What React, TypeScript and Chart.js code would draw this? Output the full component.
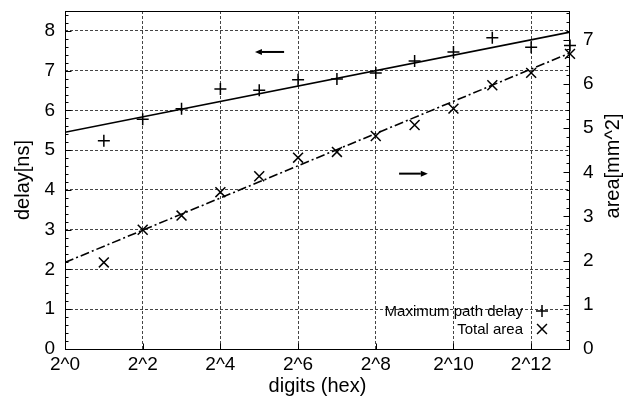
import React, { useEffect, useRef } from "react";
import { Chart, registerables } from "chart.js";

Chart.register(...registerables);

// ---- data (x values are log2 of the digit count) ----
const digitExponents = [1, 2, 3, 4, 5, 6, 7, 8, 9, 10, 11, 12, 13];
const maxPathDelay = [5.24, 5.78, 6.04, 6.54, 6.51, 6.77, 6.79, 6.94, 7.24, 7.47, 7.83, 7.59, 7.63];
const totalArea = [1.96, 2.7, 3.02, 3.55, 3.91, 4.33, 4.46, 4.82, 5.07, 5.44, 5.97, 6.25, 6.68];

const fitExponents = [0, 13];
const delayFit = [5.45, 7.97];
const areaFit = [1.96, 6.7];

const xTickExponents = [0, 2, 4, 6, 8, 10, 12];
const delayTicks = [0, 1, 2, 3, 4, 5, 6, 7, 8];
const areaTicks = [0, 1, 2, 3, 4, 5, 6, 7];

const seriesLabels = ["Maximum path delay", "Total area"];
const axisTitles = { x: "digits (hex)", y: "delay[ns]", y2: "area[mm^2]" };

// arrows in data space (x exponent, delay-axis value)
const arrowDelay = { from: [5.64, 7.47], to: [4.89, 7.47] };
const arrowArea = { from: [8.6, 4.41], to: [9.34, 4.41] };

const FONT = "'Liberation Sans', Arial, Helvetica, sans-serif";
const INK = "#000";

const noPad = (s: any) => {
  s.paddingTop = 0;
  s.paddingBottom = 0;
  s.paddingLeft = 0;
  s.paddingRight = 0;
};

const overlayPlugin = {
  id: "overlay",
  afterDatasetsDraw(chart: any) {
    const { ctx, chartArea: a, scales } = chart;
    const xs = scales.x;
    const ys = scales.y;
    const y2s = scales.y2;
    const px = (v: number) => Math.round(v) + 0.5;
    ctx.save();
    ctx.strokeStyle = INK;
    ctx.fillStyle = INK;
    ctx.lineWidth = 1;
    ctx.setLineDash([]);

    // frame
    const L = px(a.left), R = px(a.right) - 1, T = px(a.top), B = px(a.bottom);
    ctx.strokeRect(L, T, R - L, B - T);

    // inward ticks
    ctx.beginPath();
    for (let i = 0; i <= 42; i++) {
      const v = i * 0.2;
      if (v > ys.max) break;
      const major = i % 5 === 0;
      const y = px(ys.getPixelForValue(v));
      ctx.moveTo(L, y);
      ctx.lineTo(L + (major ? 6 : 3), y);
    }
    for (let i = 0; i <= 38; i++) {
      const v = i * 0.2;
      if (v > y2s.max) break;
      const major = i % 5 === 0;
      const y = px(y2s.getPixelForValue(v));
      ctx.moveTo(R, y);
      ctx.lineTo(R - (major ? 6 : 3), y);
    }
    for (const e of xTickExponents) {
      const x = px(xs.getPixelForValue(e));
      ctx.moveTo(x, B);
      ctx.lineTo(x, B - 6);
    }
    ctx.stroke();

    // arrows
    const drawArrow = (ar: any) => {
      const x1 = xs.getPixelForValue(ar.from[0]);
      const y1 = ys.getPixelForValue(ar.from[1]);
      const x2 = xs.getPixelForValue(ar.to[0]);
      const y2 = ys.getPixelForValue(ar.to[1]);
      const ang = Math.atan2(y2 - y1, x2 - x1);
      const hl = 7, hw = 3;
      const bx = x2 - hl * Math.cos(ang);
      const by = y2 - hl * Math.sin(ang);
      ctx.lineWidth = 2;
      ctx.beginPath();
      ctx.moveTo(x1, y1);
      ctx.lineTo(bx, by);
      ctx.stroke();
      ctx.beginPath();
      ctx.moveTo(x2, y2);
      ctx.lineTo(bx + hw * Math.sin(ang), by - hw * Math.cos(ang));
      ctx.lineTo(bx - hw * Math.sin(ang), by + hw * Math.cos(ang));
      ctx.closePath();
      ctx.fill();
    };
    drawArrow(arrowDelay);
    drawArrow(arrowArea);

    // legend (bottom right, inside the plot)
    const ds = chart.data.datasets;
    const sx = a.right - 28;
    const rows = [a.bottom - 38, a.bottom - 20];
    ctx.font = `15px ${FONT}`;
    ctx.textAlign = "right";
    ctx.textBaseline = "middle";
    ctx.lineWidth = 1.5;
    [0, 1].forEach((k) => {
      const yy = rows[k];
      ctx.fillText(ds[k].label, sx - 19, yy + 1);
      const r = ds[k].pointRadius;
      ctx.beginPath();
      if (ds[k].pointStyle === "cross") {
        ctx.moveTo(sx - r, yy);
        ctx.lineTo(sx + r, yy);
        ctx.moveTo(sx, yy - r);
        ctx.lineTo(sx, yy + r);
      } else {
        const d = r * Math.SQRT1_2;
        ctx.moveTo(sx - d, yy - d);
        ctx.lineTo(sx + d, yy + d);
        ctx.moveTo(sx - d, yy + d);
        ctx.lineTo(sx + d, yy - d);
      }
      ctx.stroke();
    });

    // right axis title, reading bottom-to-top
    ctx.font = `20px ${FONT}`;
    ctx.textAlign = "center";
    ctx.textBaseline = "middle";
    ctx.translate(613, (a.top + a.bottom) / 2 - 14);
    ctx.rotate(-Math.PI / 2);
    ctx.fillText(axisTitles.y2, 0, 0);
    ctx.restore();
  },
};

export default function App() {
  const ref = useRef<HTMLCanvasElement | null>(null);

  useEffect(() => {
    if (!ref.current) return;
    const gridCommon = {
      color: "#444",
      lineWidth: 1,
      drawTicks: false,
    };
    const chart = new Chart(ref.current, {
      type: "scatter",
      data: {
        datasets: [
          {
            label: seriesLabels[0],
            data: digitExponents.map((e, i) => ({ x: e, y: maxPathDelay[i] })),
            yAxisID: "y",
            pointStyle: "cross",
            pointRadius: 6,
            borderColor: INK,
            backgroundColor: INK,
            borderWidth: 1.5,
            showLine: false,
            clip: false,
          } as any,
          {
            label: seriesLabels[1],
            data: digitExponents.map((e, i) => ({ x: e, y: totalArea[i] })),
            yAxisID: "y2",
            pointStyle: "crossRot",
            pointRadius: 7,
            borderColor: INK,
            backgroundColor: INK,
            borderWidth: 1.5,
            showLine: false,
            clip: false,
          } as any,
          {
            label: "delay fit",
            data: fitExponents.map((e, i) => ({ x: e, y: delayFit[i] })),
            yAxisID: "y",
            showLine: true,
            pointRadius: 0,
            borderColor: INK,
            borderWidth: 1.6,
          } as any,
          {
            label: "area fit",
            data: fitExponents.map((e, i) => ({ x: e, y: areaFit[i] })),
            yAxisID: "y2",
            showLine: true,
            pointRadius: 0,
            borderColor: INK,
            borderWidth: 1.6,
            borderDash: [9, 3, 2, 3],
          } as any,
        ],
      },
      options: {
        animation: false,
        responsive: false,
        events: [],
        layout: { padding: { top: 11, left: 0, right: 0, bottom: 0 } },
        plugins: { legend: { display: false }, tooltip: { enabled: false } },
        scales: {
          x: {
            type: "linear",
            min: 0,
            max: 13,
            afterBuildTicks: (s: any) => {
              s.ticks = xTickExponents.map((v) => ({ value: v }));
            },
            afterFit: (s: any) => {
              s.height = 49;
              noPad(s);
            },
            grid: gridCommon,
            border: { display: false, dash: [3, 2] },
            ticks: {
              padding: 4,
              color: INK,
              font: { family: FONT, size: 19 },
              maxRotation: 0,
              autoSkip: false,
              callback: (v: any) => `2^${v}`,
            },
            title: {
              display: true,
              text: axisTitles.x,
              color: INK,
              font: { family: FONT, size: 20 },
              padding: { top: 0, bottom: 0 },
            },
          },
          y: {
            type: "linear",
            position: "left",
            min: 0,
            max: 8.5,
            afterBuildTicks: (s: any) => {
              s.ticks = delayTicks.map((v) => ({ value: v }));
            },
            afterFit: (s: any) => {
              s.width = 65;
              noPad(s);
            },
            grid: gridCommon,
            border: { display: false, dash: [3, 2] },
            ticks: {
              padding: 10,
              color: INK,
              font: { family: FONT, size: 19 },
            },
            title: {
              display: true,
              text: axisTitles.y,
              color: INK,
              font: { family: FONT, size: 20 },
              padding: { top: 11, bottom: 0 },
            },
          },
          y2: {
            type: "linear",
            position: "right",
            min: 0,
            max: 7.65,
            afterBuildTicks: (s: any) => {
              s.ticks = areaTicks.map((v) => ({ value: v }));
            },
            afterFit: (s: any) => {
              s.width = 56;
              noPad(s);
            },
            grid: { display: false, drawTicks: false },
            border: { display: false },
            ticks: {
              padding: 13,
              color: INK,
              font: { family: FONT, size: 19 },
            },
          },
        },
      } as any,
      plugins: [overlayPlugin],
    });
    return () => chart.destroy();
  }, []);

  return (
    <div style={{ position: "absolute", left: 0, top: 0, width: 626, height: 398, background: "#fff" }}>
      <canvas ref={ref} width={626} height={398} style={{ display: "block", width: 626, height: 398 }} />
    </div>
  );
}
